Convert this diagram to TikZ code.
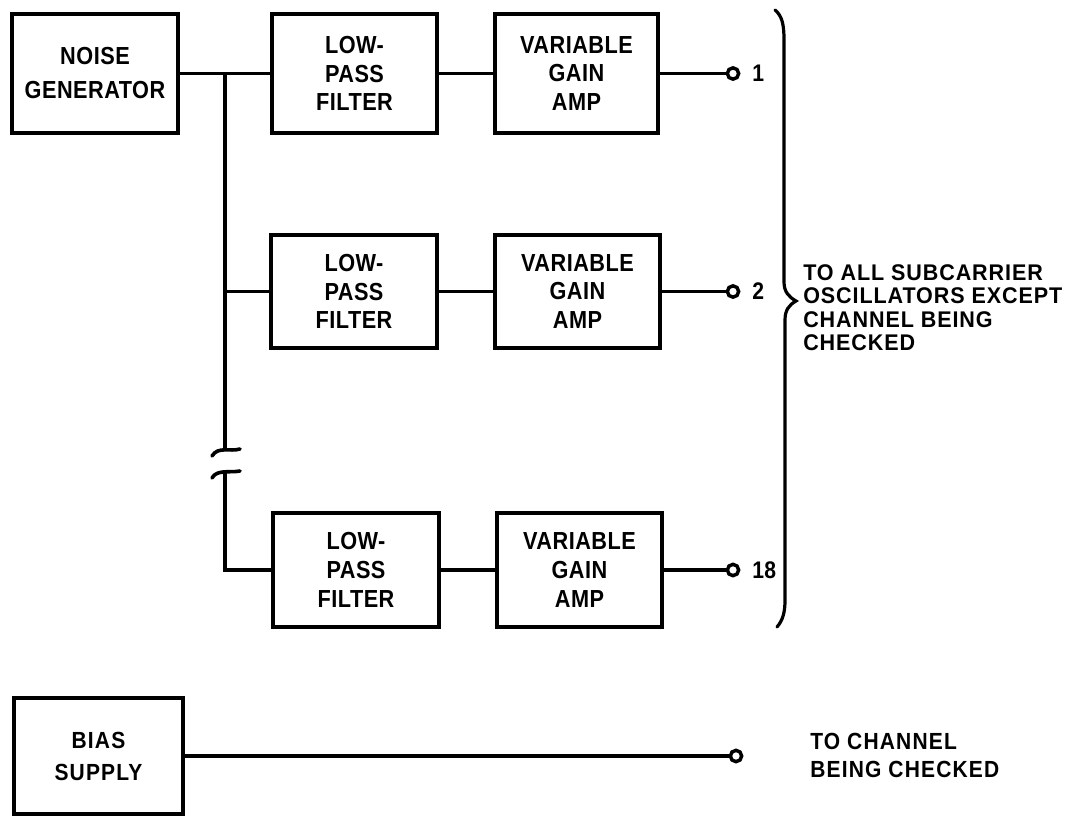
\documentclass[tikz,border=0pt]{standalone}
\usepackage{fontspec}
\setmainfont{Liberation Sans}
\newfontfamily\boxfont{Liberation Sans}[FakeStretch=0.88,LetterSpace=2]
\newfontfamily\notefont{Liberation Sans}[FakeStretch=0.95,LetterSpace=4]
\newfontfamily\biasfont{Liberation Sans}[FakeStretch=0.9,LetterSpace=5]
\begin{document}
\begin{tikzpicture}[x=0.75pt,y=-0.75pt,
  blk/.style={draw,line width=3pt,inner sep=0pt,align=center,
    minimum width=124pt,minimum height=87pt,
    font=\boxfont\bfseries\fontsize{18.5}{21.5}\selectfont},
  wire/.style={line width=2.7pt},
  term/.style={circle,draw,line width=2.6pt,fill=white,inner sep=0pt,minimum size=8.5pt},
  num/.style={anchor=west,inner sep=0pt,font=\boxfont\bfseries\fontsize{18}{20}\selectfont},
  note/.style={anchor=west,inner sep=0pt,align=left}]
\useasboundingbox (0,0) rectangle (1081,817);

% boxes
\node[blk,minimum width=124.5pt,minimum height=89.25pt,
      font=\boxfont\bfseries\fontsize{18.5}{25.5}\selectfont] (ng) at (95,73.5) {NOISE\\GENERATOR};
\node[blk,minimum width=123.75pt,minimum height=89.25pt] (lpf1) at (354.5,73.5) {LOW-\\PASS\\FILTER};
\node[blk,minimum width=122.25pt,minimum height=89.25pt] (vga1) at (576.5,73.5) {VARIABLE\\GAIN\\AMP};

\node[blk,minimum width=124.5pt,minimum height=85pt] (lpf2) at (354,291.5) {LOW-\\PASS\\FILTER};
\node[blk,minimum width=123.75pt,minimum height=85pt] (vga2) at (577.5,291.5) {VARIABLE\\GAIN\\AMP};

\node[blk,minimum width=124.5pt,minimum height=86pt] (lpf3) at (356,570) {LOW-\\PASS\\FILTER};
\node[blk,minimum width=123.75pt,minimum height=86pt] (vga3) at (579.5,570) {VARIABLE\\GAIN\\AMP};

\node[blk,minimum width=126.75pt,minimum height=87pt,
      font=\biasfont\bfseries\fontsize{17.5}{24}\selectfont] (bias) at (98.5,756) {BIAS\\SUPPLY};

% terminals
\node[term] (t1) at (733,73.5) {};
\node[term] (t2) at (733,291.5) {};
\node[term] (t3) at (733,570) {};
\node[term] (t4) at (736,756) {};

\node[num] (n1) at (752,73.5) {1};
\node[num] (n2) at (752,291.5) {2};
\node[num] (n3) at (752,570) {18};

% junction coordinates
\coordinate (j1) at (225,73.5);
\coordinate (j2) at (225,291.5);
\coordinate (bt) at (225,451);
\coordinate (bb) at (225,473);

% connectors
\draw[wire] (ng.east) -- (lpf1.west);
\draw[wire] (lpf1.east) -- (vga1.west);
\draw[wire] (vga1.east) -- (t1.west);
\draw[wire] (j2) -- (lpf2.west);
\draw[wire] (lpf2.east) -- (vga2.west);
\draw[wire] (vga2.east) -- (t2.west);
\draw[wire] (lpf3.east) -- (vga3.west);
\draw[wire] (vga3.east) -- (t3.west);
\draw[wire] (bias.east) -- (t4.west);

% trunk with break
\draw[wire] (j1) -- (bt);
\draw[wire,line cap=round] (212,456) .. controls (218,446) and (230,452) .. (240,449);
\draw[wire,line cap=round] (212,478) .. controls (217,469) and (230,473) .. (240,471);
\draw[wire] (bb) |- (lpf3.west);

% brace
\draw[line width=2.4pt,line cap=round]
  (775,10) .. controls (782,16) and (784,24) .. (784,40)
  -- (784,282) .. controls (784,292) and (789,297) .. (796,301)
  .. controls (789,305) and (785,310) .. (785,320)
  -- (785,600) .. controls (785,612) and (783,620) .. (777,627);

% notes
\node[note,font=\notefont\bfseries\fontsize{17}{17.6}\selectfont] (txt1) at (803,307.5)
  {TO ALL SUBCARRIER\\OSCILLATORS EXCEPT\\CHANNEL BEING\\CHECKED};
\node[note,font=\biasfont\bfseries\fontsize{17.5}{21}\selectfont] (txt2) at (810,755)
  {TO CHANNEL\\BEING CHECKED};
\end{tikzpicture}
\end{document}
